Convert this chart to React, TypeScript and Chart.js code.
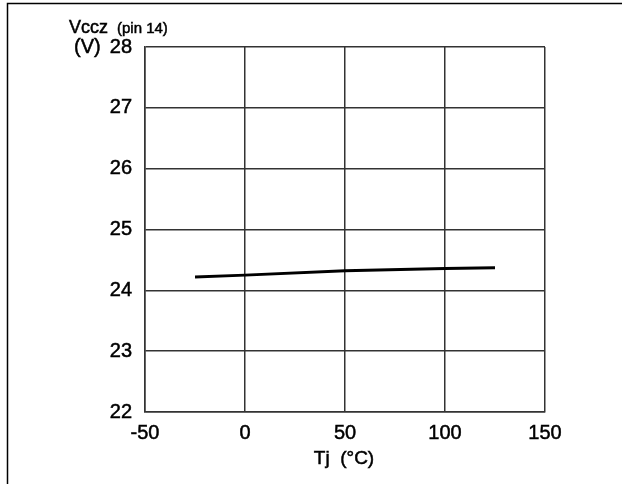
import React, { useEffect, useRef } from "react";
import { Chart, registerables } from "chart.js";

Chart.register(...registerables);

const tjValues = [-25, 0, 50, 100, 125];
const vcczValues = [24.22, 24.25, 24.32, 24.36, 24.37];
const xTicks = [-50, 0, 50, 100, 150];
const yTicks = [22, 23, 24, 25, 26, 27, 28];
const yTitleMain = "Vccz";
const yTitleSub = "(pin 14)";
const yUnit = "(V)";
const xTitle = "Tj  (°C)";

const FONT = '"Liberation Sans", Arial, sans-serif';

const decorPlugin = {
  id: "decor",
  afterDraw(chart: any) {
    const ctx = chart.ctx;
    ctx.save();
    ctx.strokeStyle = "#000";
    ctx.lineWidth = 1.5;
    ctx.beginPath();
    ctx.moveTo(7.5, 484);
    ctx.lineTo(7.5, 3.5);
    ctx.lineTo(622, 3.5);
    ctx.stroke();
    ctx.fillStyle = "#000";
    ctx.textBaseline = "alphabetic";
    ctx.textAlign = "left";
    ctx.lineWidth = 0.5;
    const put = (t: string, size: number, x: number, y: number) => {
      ctx.font = `${size}px ${FONT}`;
      ctx.fillText(t, x, y);
      ctx.strokeText(t, x, y);
    };
    put(yTitleMain, 18, 69, 33);
    put(yTitleSub, 15, 117, 33);
    put(yUnit, 20, 74, 53);
    const xs = chart.scales.x;
    ctx.textAlign = "center";
    put(xTitle, 19, (xs.left + xs.right) / 2 - 1, 464);
    ctx.restore();
  },
};

export default function App() {
  const ref = useRef<HTMLCanvasElement>(null);
  useEffect(() => {
    document.body.style.margin = "0";
    const canvas = ref.current!;
    const chart = new Chart(canvas, {
      type: "line",
      data: {
        datasets: [
          {
            data: tjValues.map((x, i) => ({ x, y: vcczValues[i] })),
            borderColor: "#000",
            borderWidth: 3,
            pointRadius: 0,
            tension: 0,
            fill: false,
          },
        ],
      },
      options: {
        animation: false,
        responsive: false,
        devicePixelRatio: 1,
        layout: { padding: { left: 0, top: 47, right: 77, bottom: 0 } },
        plugins: { legend: { display: false }, tooltip: { enabled: false } },
        scales: {
          x: {
            type: "linear",
            min: xTicks[0],
            max: xTicks[xTicks.length - 1],
            afterBuildTicks: (s: any) => {
              s.ticks = xTicks.map((v) => ({ value: v }));
            },
            afterFit: (s: any) => {
              s.height = 72;
            },
            grid: { color: "#333", lineWidth: 1.5, drawTicks: false },
            border: { display: true, color: "#333", width: 1.5 },
            ticks: {
              color: "#000",
              font: { family: FONT, size: 20 },
              padding: 9,
              maxRotation: 0,
              textStrokeColor: "#000",
              textStrokeWidth: 0.5,
            },
          },
          y: {
            type: "linear",
            min: yTicks[0],
            max: yTicks[yTicks.length - 1],
            afterBuildTicks: (s: any) => {
              s.ticks = yTicks.map((v) => ({ value: v }));
            },
            afterFit: (s: any) => {
              s.width = 145;
            },
            grid: { color: "#333", lineWidth: 1.5, drawTicks: false },
            border: { display: true, color: "#333", width: 1.5 },
            ticks: {
              color: "#000",
              font: { family: FONT, size: 20 },
              padding: 13,
              textStrokeColor: "#000",
              textStrokeWidth: 0.5,
            },
          },
        },
      },
      plugins: [decorPlugin],
    });
    return () => chart.destroy();
  }, []);
  return (
    <canvas
      ref={ref}
      width={622}
      height={484}
      style={{ display: "block", width: 622, height: 484 }}
    />
  );
}
